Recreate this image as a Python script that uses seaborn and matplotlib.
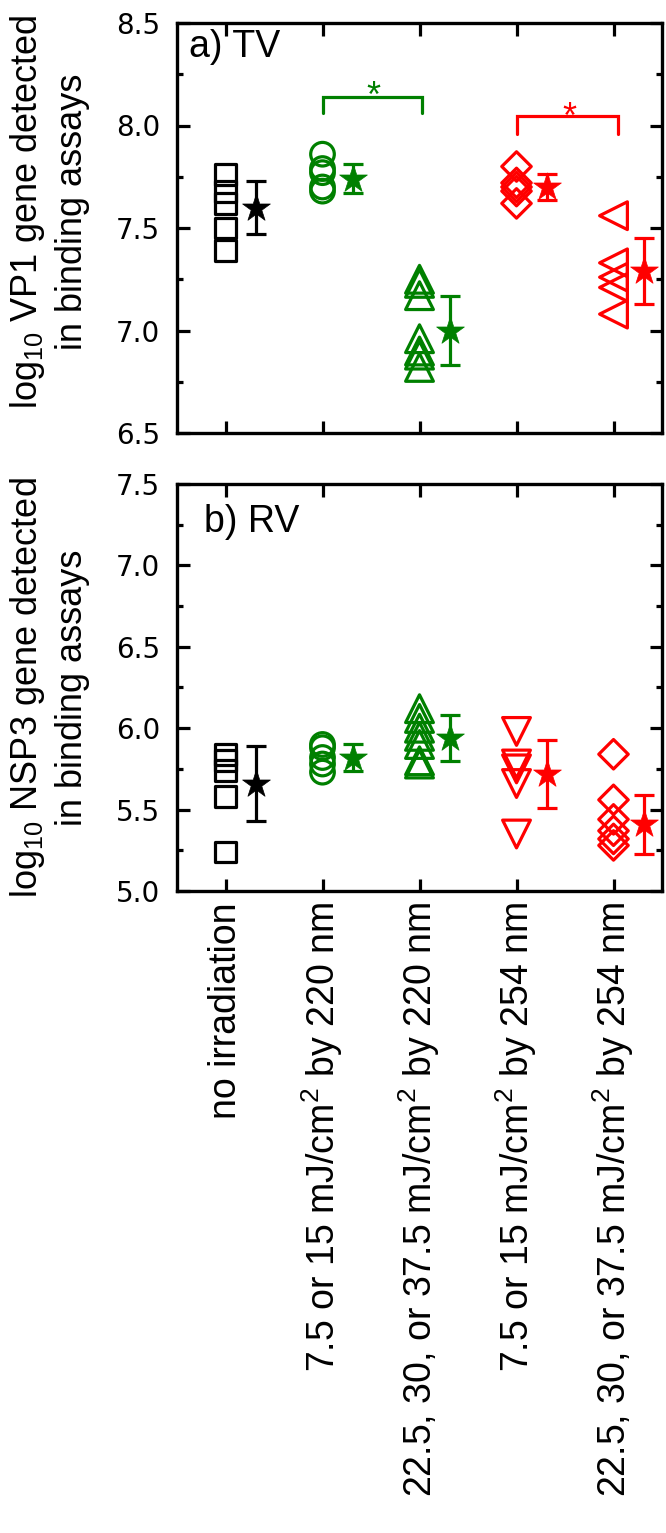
import numpy as np
import pandas as pd
import matplotlib
matplotlib.use("Agg")
import matplotlib.pyplot as plt
from matplotlib.ticker import MultipleLocator
import seaborn as sns

# ---------------- data ----------------
categories = [
    "no irradiation",
    "7.5 or 15 mJ/cm$^2$ by 220 nm",
    "22.5, 30, or 37.5 mJ/cm$^2$ by 220 nm",
    "7.5 or 15 mJ/cm$^2$ by 254 nm",
    "22.5, 30, or 37.5 mJ/cm$^2$ by 254 nm",
]

# a) TV  (log10 VP1 gene detected in binding assays)
tv_no_irr = [7.76, 7.68, 7.62, 7.50, 7.39]
tv_220_low = [7.86, 7.79, 7.77, 7.70, 7.68]
tv_220_high = [7.25, 7.23, 7.17, 6.96, 6.90, 6.88, 6.82]
tv_254_low = [7.80, 7.72, 7.70, 7.68, 7.62]
tv_254_high = [7.56, 7.33, 7.26, 7.21, 7.08]
tv_mean = [7.60, 7.74, 7.00, 7.70, 7.29]
tv_sd = [0.13, 0.07, 0.17, 0.065, 0.16]

# b) RV  (log10 NSP3 gene detected in binding assays)
rv_no_irr = [5.84, 5.80, 5.74, 5.58, 5.24]
rv_220_low = [5.90, 5.88, 5.82, 5.78, 5.73]
rv_220_high = [6.12, 6.06, 6.00, 5.95, 5.90, 5.80, 5.78]
rv_254_low = [5.98, 5.78, 5.75, 5.66, 5.35]
rv_254_high = [5.84, 5.56, 5.44, 5.37, 5.32, 5.28]
rv_mean = [5.66, 5.82, 5.94, 5.72, 5.41]
rv_sd = [0.23, 0.08, 0.14, 0.21, 0.18]

# ---------------- style ----------------
sns.set_theme(style="ticks")
plt.rcParams["font.family"] = ["Liberation Sans", "DejaVu Sans"]
plt.rcParams["mathtext.fontset"] = "custom"
plt.rcParams["mathtext.rm"] = "Liberation Sans"
plt.rcParams["mathtext.it"] = "Liberation Sans:italic"
plt.rcParams["mathtext.bf"] = "Liberation Sans:bold"
for key in ("text.color", "axes.labelcolor", "xtick.color", "ytick.color",
            "axes.edgecolor"):
    plt.rcParams[key] = "black"

GREEN = "#008000"
RED = "#ff0000"
colors = ["black", GREEN, GREEN, RED, RED]
tv_markers = ["s", "o", "^", "D", "<"]
rv_markers = ["s", "o", "^", "v", "D"]
msize = {"s": 15, "o": 17, "^": 20, "D": 15, "<": 20, "v": 20}
LW = 2.3
STAR_DX = 0.31


def build(groups):
    rows = []
    for i, vals in enumerate(groups):
        for v in vals:
            rows.append({"pos": i, "value": v})
    return pd.DataFrame(rows)


tv_df = build([tv_no_irr, tv_220_low, tv_220_high, tv_254_low, tv_254_high])
rv_df = build([rv_no_irr, rv_220_low, rv_220_high, rv_254_low, rv_254_high])

W, H = 666, 1533
fig = plt.figure(figsize=(W / 100, H / 100), dpi=100)
ax1 = fig.add_axes([177 / W, 1 - 433 / H, 485 / W, 410 / H])
ax2 = fig.add_axes([177 / W, 1 - 891 / H, 485 / W, 407 / H])


def draw(ax, df, markers, means, sds):
    for i in range(len(categories)):
        sub = df[df["pos"] == i]
        m = markers[i]
        sns.scatterplot(data=sub, x="pos", y="value", marker=m, s=msize[m] ** 2,
                        facecolor="none", edgecolor=colors[i], linewidth=LW,
                        ax=ax, legend=False, zorder=3)
        star = pd.DataFrame({"x": [i + STAR_DX], "y": [means[i]]})
        ax.errorbar(star["x"], star["y"], yerr=[sds[i]], fmt="none",
                    ecolor=colors[i], elinewidth=LW, capsize=7, capthick=LW,
                    zorder=4)
        sns.scatterplot(data=star, x="x", y="y", marker="*", s=21 ** 2,
                        color=colors[i], edgecolor=colors[i], linewidth=0.5,
                        ax=ax, legend=False, zorder=5)


draw(ax1, tv_df, tv_markers, tv_mean, tv_sd)
draw(ax2, rv_df, rv_markers, rv_mean, rv_sd)

for ax in (ax1, ax2):
    ax.set_xlim(-0.5, 4.5)
    ax.set_xticks(range(len(categories)))
    ax.yaxis.set_major_locator(MultipleLocator(0.5))
    ax.yaxis.set_minor_locator(MultipleLocator(0.25))
    ax.tick_params(which="both", direction="in", top=True, right=True,
                   width=2.3, color="black")
    ax.tick_params(which="major", length=9)
    ax.tick_params(which="minor", length=4.5)
    ax.tick_params(axis="y", which="major", pad=12)
    ax.tick_params(axis="x", which="minor", top=False, bottom=False)
    for sp in ax.spines.values():
        sp.set_linewidth(2.4)
        sp.set_color("black")
    ax.set_xlabel("")

ax1.set_ylim(6.5, 8.5)
ax2.set_ylim(5.0, 7.5)
ax1.set_yticks([6.5, 7.0, 7.5, 8.0, 8.5])
ax2.set_yticks([5.0, 5.5, 6.0, 6.5, 7.0, 7.5])
for ax in (ax1, ax2):
    ax.set_yticklabels([f"{t:.1f}" for t in ax.get_yticks()],
                       fontfamily="DejaVu Sans", fontsize=20)
ax1.tick_params(axis="x", labelbottom=False)
ax2.set_xticklabels(categories, rotation=90, fontsize=27)
ax2.tick_params(axis="x", pad=8)

ax1.set_ylabel("log$_{10}$ VP1 gene detected\nin binding assays",
               fontsize=26, linespacing=1.3)
ax2.set_ylabel("log$_{10}$ NSP3 gene detected\nin binding assays",
               fontsize=26, linespacing=1.3)
ax1.yaxis.set_label_coords(-0.18, 0.54)
ax2.yaxis.set_label_coords(-0.18, 0.5)

ax1.text(0.025, 0.985, "a) TV", transform=ax1.transAxes, fontsize=27,
         ha="left", va="top")
ax2.text(0.055, 0.95, "b) RV", transform=ax2.transAxes, fontsize=27,
         ha="left", va="top")

# significance brackets
ax1.plot([1.0, 1.0, 2.03, 2.03], [8.06, 8.14, 8.14, 8.06], color=GREEN,
         lw=2.3, solid_joinstyle="miter")
ax1.text(1.52, 8.09, "*", color=GREEN, fontsize=26, ha="center",
         va="baseline")
ax1.plot([3.0, 3.0, 4.05, 4.05], [7.96, 8.045, 8.045, 7.96], color=RED,
         lw=2.3, solid_joinstyle="miter")
ax1.text(3.55, 7.99, "*", color=RED, fontsize=26, ha="center",
         va="baseline")

fig.savefig("out.png", dpi=100)
